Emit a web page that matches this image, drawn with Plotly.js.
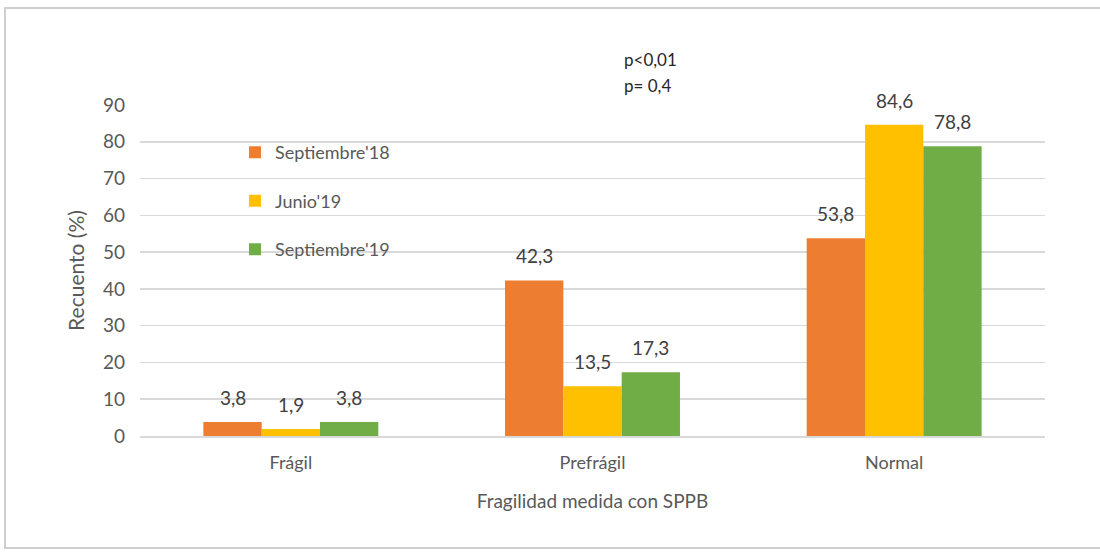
<!DOCTYPE html>
<html><head><meta charset="utf-8">
<script src="https://cdn.plot.ly/plotly-3.0.1.min.js"></script>
<style>html,body{margin:0;padding:0;background:#fff;}#chart{width:1100px;height:553px;}</style>
</head><body><div id="chart"></div>
<script>
const categories = ["Frágil", "Prefrágil", "Normal"];
const seriesNames = ["Septiembre'18", "Junio'19", "Septiembre'19"];
const sep18 = [3.8, 42.3, 53.8];
const jun19 = [1.9, 13.5, 84.6];
const sep19 = [3.8, 17.3, 78.8];
const colors = ["#ED7D31", "#FFC000", "#70AD47"];
const pTexts = ["p<0,01", "p= 0,4"];

const fmt = v => v.toFixed(1).replace('.', ',');
const font = "Lato, 'Open Sans', sans-serif";
const vals = [sep18, jun19, sep19];
const bargap = 0.42;
const barW = (1 - bargap) / vals.length;

const traces = vals.map((v, i) => ({
  type: 'bar', x: categories, y: v, name: seriesNames[i],
  marker: {color: colors[i]},
  legendgroup: 'g' + i
}));

const labelAnns = [];
vals.forEach((v, i) => {
  const off = (i - (vals.length - 1) / 2) * barW;
  v.forEach((y, j) => {
    labelAnns.push({
      xref: 'x', yref: 'y', x: j + off, y: y, text: fmt(y),
      showarrow: false, xanchor: 'center', yanchor: 'bottom', yshift: 11,
      font: {family: font, size: 19, color: '#404040'}
    });
  });
});

const layout = {
  width: 1100, height: 553,
  margin: {l: 140, r: 55, t: 105, b: 117},
  paper_bgcolor: '#fff', plot_bgcolor: '#fff',
  barmode: 'group', bargap: bargap, bargroupgap: 0,
  font: {family: font, color: '#595959'},
  xaxis: {
    showgrid: false, showline: true, linecolor: '#d9d9d9', linewidth: 1.5,
    ticks: '', tickfont: {size: 18, color: '#595959'}, ticklabelstandoff: 10,
    title: {text: 'Fragilidad medida con SPPB', font: {size: 19, color: '#595959'}, standoff: 22}
  },
  yaxis: {
    range: [0, 90], dtick: 10, showgrid: true, gridcolor: '#d9d9d9', gridwidth: 1.5,
    zeroline: false, ticks: '', tickfont: {size: 19, color: '#595959'},
    ticklabelstandoff: 14,
    title: {text: 'Recuento (%)', font: {size: 21, color: '#595959'}, standoff: 12}
  },
  showlegend: true,
  legend: {
    x: 0.105, y: 0.912, xanchor: 'left', yanchor: 'top',
    bgcolor: 'rgba(0,0,0,0)', traceorder: 'grouped', tracegroupgap: 22,
    font: {family: font, size: 18, color: '#595959'}, itemwidth: 30
  },
  annotations: pTexts.map((t, i) => ({
    xref: 'paper', yref: 'paper', x: (622 - 140) / 905, y: (436 - 60 - i * 25) / 331,
    xanchor: 'left', yanchor: 'middle', showarrow: false, text: t,
    font: {family: font, size: 17, color: '#262626'}
  })).concat(labelAnns),
  shapes: [{
    type: 'rect', xref: 'paper', yref: 'paper',
    x0: (5 - 140) / 905, x1: (1110 - 140) / 905,
    y0: (436 - 548) / 331, y1: (436 - 8) / 331,
    line: {color: '#cfcfcf', width: 2}, fillcolor: 'rgba(0,0,0,0)', layer: 'below'
  }]
};
Plotly.newPlot('chart', traces, layout, {displayModeBar: false, staticPlot: true});
</script></body></html>
